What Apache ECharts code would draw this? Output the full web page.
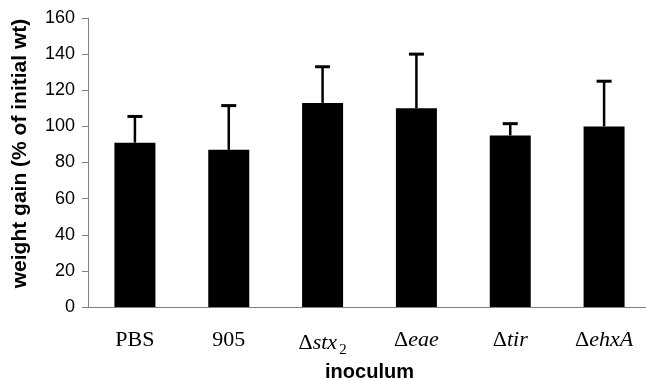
<!DOCTYPE html>
<html><head><meta charset="utf-8">
<script src="https://cdn.jsdelivr.net/npm/echarts@6/dist/echarts.min.js"></script>
<style>html,body{margin:0;padding:0;background:#fff}#c{width:646px;height:379px}</style>
</head><body><div id="c"></div>
<script>
const categories = ['PBS', '905', 'Δstx2', 'Δeae', 'Δtir', 'ΔehxA'];
const tickLabels = ['{r|PBS}', '{r|905}', '{r|Δ}{i|stx}{s|2}', '{r|Δ}{i|eae}', '{r|Δ}{i|tir}', '{r|Δ}{i|ehxA}'];
const means = [91, 87, 113, 110, 95, 100];
const errUpper = [105.5, 111.5, 133, 140, 101.5, 125];
const yTicks = [0, 20, 40, 60, 80, 100, 120, 140, 160];

const chart = echarts.init(document.getElementById('c'));
const serif = '"Liberation Serif","Times New Roman",serif';
chart.setOption({
  animation: false,
  grid: {left: 88, top: 18, width: 563, height: 289, containLabel: false, outerBoundsMode: 'none'},
  xAxis: {
    type: 'category', data: categories,
    name: 'inoculum', nameLocation: 'middle', nameGap: 45,
    nameTextStyle: {fontFamily: 'Liberation Sans, Arial', fontWeight: 'bold', fontSize: 20, color: '#000'},
    axisLine: {lineStyle: {color: '#808080', width: 1}},
    axisTick: {show: false},
    axisLabel: {
      margin: 22, interval: 0,
      formatter: (v, i) => tickLabels[i],
      rich: {
        r: {fontFamily: serif, fontSize: 22, color: '#000'},
        i: {fontFamily: serif, fontSize: 22, fontStyle: 'italic', color: '#000'},
        s: {fontFamily: serif, fontSize: 15, color: '#000', padding: [14, 0, 0, 2]}
      }
    }
  },
  yAxis: {
    type: 'value', min: 0, max: 160, interval: 20,
    name: 'weight gain (% of initial wt)', nameLocation: 'middle', nameGap: 57, nameRotate: 90,
    nameTextStyle: {fontFamily: 'Liberation Sans, Arial', fontWeight: 'bold', fontSize: 21, color: '#000', padding: [0, 0, 0, 18]},
    axisLine: {show: true, lineStyle: {color: '#808080', width: 1}},
    axisTick: {show: true, inside: false, length: 6, lineStyle: {color: '#808080'}},
    splitLine: {show: false},
    axisLabel: {margin: 13, fontFamily: 'Liberation Sans, Arial', fontSize: 18, color: '#000',
      formatter: v => yTicks.includes(v) ? String(v) : ''}
  },
  series: [
    {type: 'bar', data: means, barWidth: 41, itemStyle: {color: '#000'}, z: 2},
    {
      type: 'custom', z: 3,
      data: means.map((m, i) => [i, m, errUpper[i]]),
      renderItem: (params, api) => {
        const p0 = api.coord([api.value(0), api.value(1)]);
        const p1 = api.coord([api.value(0), api.value(2)]);
        const st = {stroke: '#000', lineWidth: 2.5};
        return {type: 'group', children: [
          {type: 'line', shape: {x1: p0[0], y1: p0[1], x2: p1[0], y2: p1[1]}, style: st},
          {type: 'line', shape: {x1: p1[0] - 7.5, y1: p1[1], x2: p1[0] + 7.5, y2: p1[1]}, style: {stroke: '#000', lineWidth: 3}}
        ]};
      }
    }
  ]
});
</script></body></html>
